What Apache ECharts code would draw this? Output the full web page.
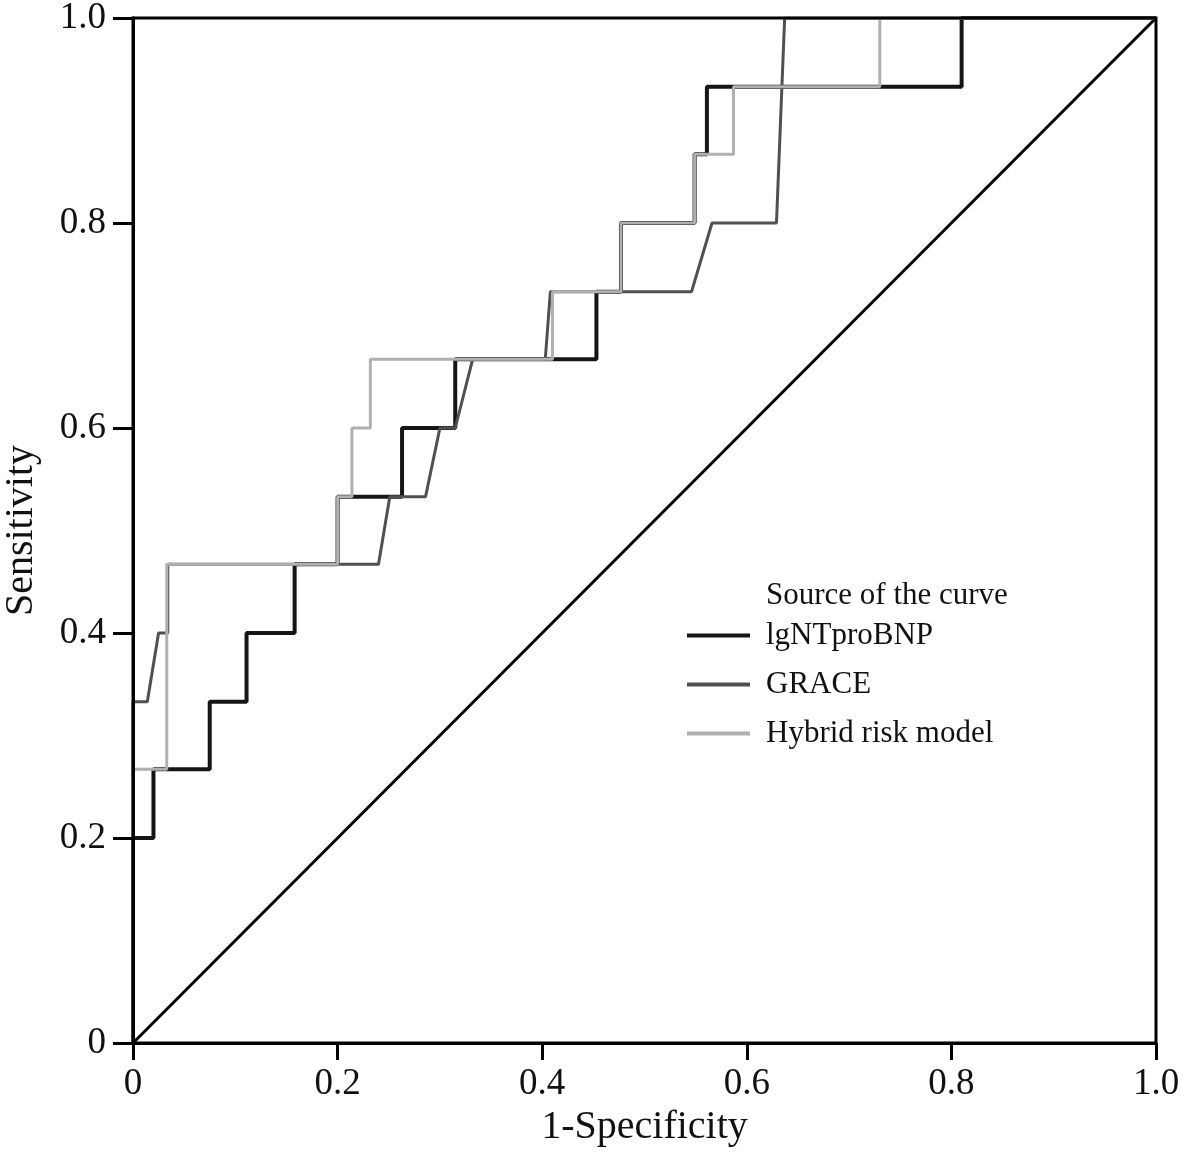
<!DOCTYPE html>
<html>
<head>
<meta charset="utf-8">
<script src="https://cdn.jsdelivr.net/npm/echarts@6/dist/echarts.min.js"></script>
<style>
html,body{margin:0;padding:0;background:#fff;}
#chart{width:1184px;height:1153px;}
</style>
</head>
<body>
<div id="chart"></div>
<script>
// ROC curves: x = 1-Specificity, y = Sensitivity
const lgX = [0, 0, 0.02, 0.02, 0.075, 0.075, 0.111, 0.111, 0.158, 0.158, 0.2, 0.2, 0.263, 0.263, 0.315, 0.315, 0.453, 0.453, 0.477, 0.477, 0.549, 0.549, 0.561, 0.561, 0.81, 0.81, 1];
const lgY = [0, 0.2, 0.2, 0.267, 0.267, 0.333, 0.333, 0.4, 0.4, 0.467, 0.467, 0.533, 0.533, 0.6, 0.6, 0.667, 0.667, 0.733, 0.733, 0.8, 0.8, 0.867, 0.867, 0.933, 0.933, 1, 1];

const graceX = [0, 0, 0.014, 0.025, 0.034, 0.034, 0.24, 0.251, 0.286, 0.30, 0.315, 0.332, 0.403, 0.408, 0.546, 0.566, 0.629, 0.637, 1];
const graceY = [0, 0.333, 0.333, 0.4, 0.4, 0.467, 0.467, 0.533, 0.533, 0.6, 0.6, 0.667, 0.667, 0.733, 0.733, 0.8, 0.8, 1, 1];

const hybX = [0, 0, 0.033, 0.033, 0.2, 0.2, 0.214, 0.214, 0.232, 0.232, 0.41, 0.41, 0.477, 0.477, 0.549, 0.549, 0.587, 0.587, 0.73, 0.73, 1];
const hybY = [0, 0.267, 0.267, 0.467, 0.467, 0.533, 0.533, 0.6, 0.6, 0.667, 0.667, 0.733, 0.733, 0.8, 0.8, 0.867, 0.867, 0.933, 0.933, 1, 1];

const refX = [0, 1];
const refY = [0, 1];

const seriesNames = ['lgNTproBNP', 'GRACE', 'Hybrid risk model'];
const legendTitle = 'Source of the curve';
const xTicks = [0, 0.2, 0.4, 0.6, 0.8, 1.0];
const yTicks = [0, 0.2, 0.4, 0.6, 0.8, 1.0];

const zip = (xs, ys) => xs.map((x, i) => [x, ys[i]]);
const fmt = v => (v === 0 ? '0' : v.toFixed(1));
const serif = 'Liberation Serif';

const chart = echarts.init(document.getElementById('chart'), null, {renderer: 'canvas'});
chart.setOption({
  backgroundColor: '#fff',
  animation: false,
  title: {
    text: legendTitle,
    left: 766, top: 580, padding: 0,
    textStyle: {fontFamily: serif, fontSize: 31, fontWeight: 'normal', color: '#111'}
  },
  legend: {
    orient: 'vertical',
    left: 687, top: 620,
    padding: 0,
    itemGap: 18,
    itemWidth: 63,
    itemHeight: 4,
    icon: 'rect',
    data: seriesNames,
    textStyle: {fontFamily: serif, fontSize: 31, color: '#111', padding: [0, 0, 0, 11]}
  },
  grid: {
    left: 133, top: 18, right: 28, bottom: 110,
    containLabel: false, outerBoundsMode: 'none',
    show: true, borderColor: '#000', borderWidth: 3, backgroundColor: 'transparent', z: 10
  },
  xAxis: {
    type: 'value', min: 0, max: 1, interval: 0.2, z: 10,
    name: '1-Specificity', nameLocation: 'middle', nameGap: 60,
    nameTextStyle: {fontFamily: serif, fontSize: 40, color: '#111'},
    axisLine: {lineStyle: {color: '#000', width: 3}},
    axisTick: {show: true, inside: false, length: 17, lineStyle: {color: '#000', width: 3}},
    axisLabel: {margin: 23, fontFamily: serif, fontSize: 37, color: '#111', formatter: fmt},
    splitLine: {show: false}
  },
  yAxis: {
    type: 'value', min: 0, max: 1, interval: 0.2, z: 10,
    name: 'Sensitivity', nameLocation: 'middle', nameGap: 92,
    nameTextStyle: {fontFamily: serif, fontSize: 40, color: '#111'},
    axisLine: {lineStyle: {color: '#000', width: 3}},
    axisTick: {show: true, inside: false, length: 20, lineStyle: {color: '#000', width: 3}},
    axisLabel: {margin: 27, fontFamily: serif, fontSize: 37, color: '#111', formatter: fmt},
    splitLine: {show: false}
  },
  series: [
    {
      name: 'reference', type: 'line', data: zip(refX, refY), showSymbol: false, symbol: 'none',
      lineStyle: {color: '#000', width: 3}, silent: true, z: 1
    },
    {
      name: seriesNames[0], type: 'line', data: zip(lgX, lgY), showSymbol: false, symbol: 'none',
      itemStyle: {color: '#151515'}, lineStyle: {color: '#151515', width: 4}, z: 2
    },
    {
      name: seriesNames[1], type: 'line', data: zip(graceX, graceY), showSymbol: false, symbol: 'none',
      itemStyle: {color: '#505050'}, lineStyle: {color: '#505050', width: 3}, z: 3
    },
    {
      name: seriesNames[2], type: 'line', data: zip(hybX, hybY), showSymbol: false, symbol: 'none',
      itemStyle: {color: '#b0b0b0'}, lineStyle: {color: '#b0b0b0', width: 3}, z: 4
    }
  ]
});
</script>
</body>
</html>
